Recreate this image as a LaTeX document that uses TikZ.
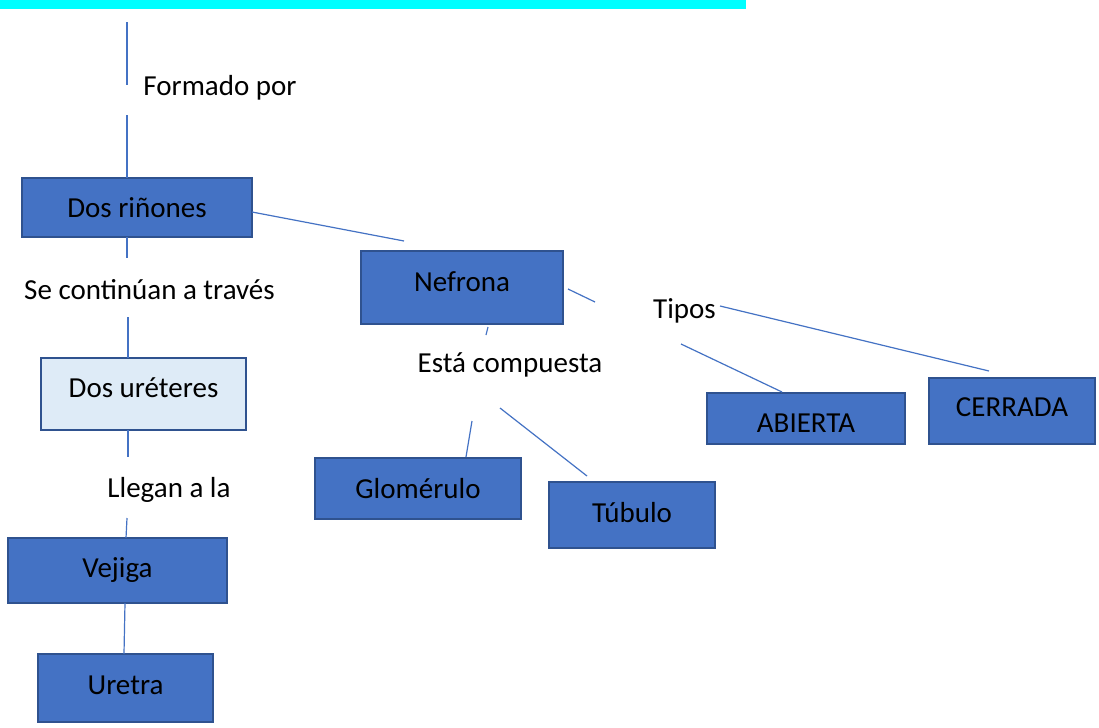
\documentclass[tikz,border=0pt]{standalone}
\usepackage{fontspec}
\setmainfont{Carlito}
\definecolor{office}{HTML}{4472C4}
\definecolor{edge}{HTML}{2F528F}
\definecolor{pale}{HTML}{DEEBF7}
\definecolor{bar}{HTML}{00FFFF}
\newcommand{\lift}[2]{\raisebox{#1}[\height][\depth]{#2}}

\begin{document}
\begin{tikzpicture}[
  x=0.5pt,y=-0.5pt,
  font=\fontsize{14.5}{17}\selectfont,
  box/.style={draw=edge,line width=1.1pt,fill=office,inner sep=0pt,align=center},
  palebox/.style={box,fill=pale},
  tag/.style={inner sep=1pt,align=center},
  link/.style={draw=office,line width=0.6pt}
]
\useasboundingbox[fill=white] (0,0) rectangle (1099,728);
\fill[bar] (0,0) rectangle (746,9);

% boxes
\node[box,minimum width=115pt,minimum height=29.5pt] (rinones) at (137,207.5) {Dos riñones};
\node[palebox,minimum width=102.5pt,minimum height=36pt] (ureteres) at (143.5,394) {\lift{3pt}{Dos uréteres}};
\node[box,minimum width=109.5pt,minimum height=32.5pt] (vejiga) at (117.5,570.5) {Vejiga};
\node[box,minimum width=87.5pt,minimum height=34pt] (uretra) at (125.5,688) {\lift{1.5pt}{Uretra}};
\node[box,minimum width=101pt,minimum height=36.5pt] (nefrona) at (462,287.5) {\lift{2.75pt}{Nefrona}};
\node[box,minimum width=103pt,minimum height=30.5pt] (glomerulo) at (418,488.5) {Glomérulo};
\node[box,minimum width=83pt,minimum height=33pt] (tubulo) at (632,515) {\lift{1pt}{Túbulo}};
\node[box,minimum width=99pt,minimum height=25.5pt] (abierta) at (806,418.5) {\lift{-2.25pt}{ABIERTA}};
\node[box,minimum width=83pt,minimum height=33pt] (cerrada) at (1012,411) {\lift{2pt}{CERRADA}};

% labels
\node[tag] (formado) at (220,88) {Formado por};
\node[tag] (continuan) at (149.5,290) {Se continúan a través};
\node[tag] (llegan) at (169,490) {Llegan a la};
\node[tag] (compuesta) at (510,365) {Está compuesta};
\node[tag] (tipos) at (684.5,311) {Tipos};

% free ends of the connectors
\coordinate (top) at (127,22);
\coordinate (f1) at (127,85);
\coordinate (f2) at (127,115);
\coordinate (r1) at (127,178);
\coordinate (r2) at (252,212);
\coordinate (r3) at (127,237);
\coordinate (n0) at (404,241);
\coordinate (s1) at (127,258);
\coordinate (s2) at (128,317);
\coordinate (u1) at (128,358);
\coordinate (u2) at (128,430);
\coordinate (l1) at (128,457);
\coordinate (l2) at (127,518);
\coordinate (v1) at (126,538);
\coordinate (v2) at (125,603);
\coordinate (e1) at (124,654);
\coordinate (n1) at (568,289);
\coordinate (t1) at (595,302);
\coordinate (t2) at (720,306);
\coordinate (c1) at (989,371);
\coordinate (t3) at (681,344);
\coordinate (a1) at (782,392);
\coordinate (n2) at (488,327);
\coordinate (k1) at (486,335);
\coordinate (k2) at (472,421);
\coordinate (g1) at (466,457);
\coordinate (k3) at (500,408);
\coordinate (b1) at (587,476);

\draw[link] (top)--(f1);
\draw[link] (f2)--(r1);
\draw[link] (r2)--(n0);
\draw[link] (r3)--(s1);
\draw[link] (s2)--(u1);
\draw[link] (u2)--(l1);
\draw[link] (l2)--(v1);
\draw[link] (v2)--(e1);
\draw[link] (n1)--(t1);
\draw[link] (t2)--(c1);
\draw[link] (t3)--(a1);
\draw[link] (n2)--(k1);
\draw[link] (k2)--(g1);
\draw[link] (k3)--(b1);
\end{tikzpicture}
\end{document}
